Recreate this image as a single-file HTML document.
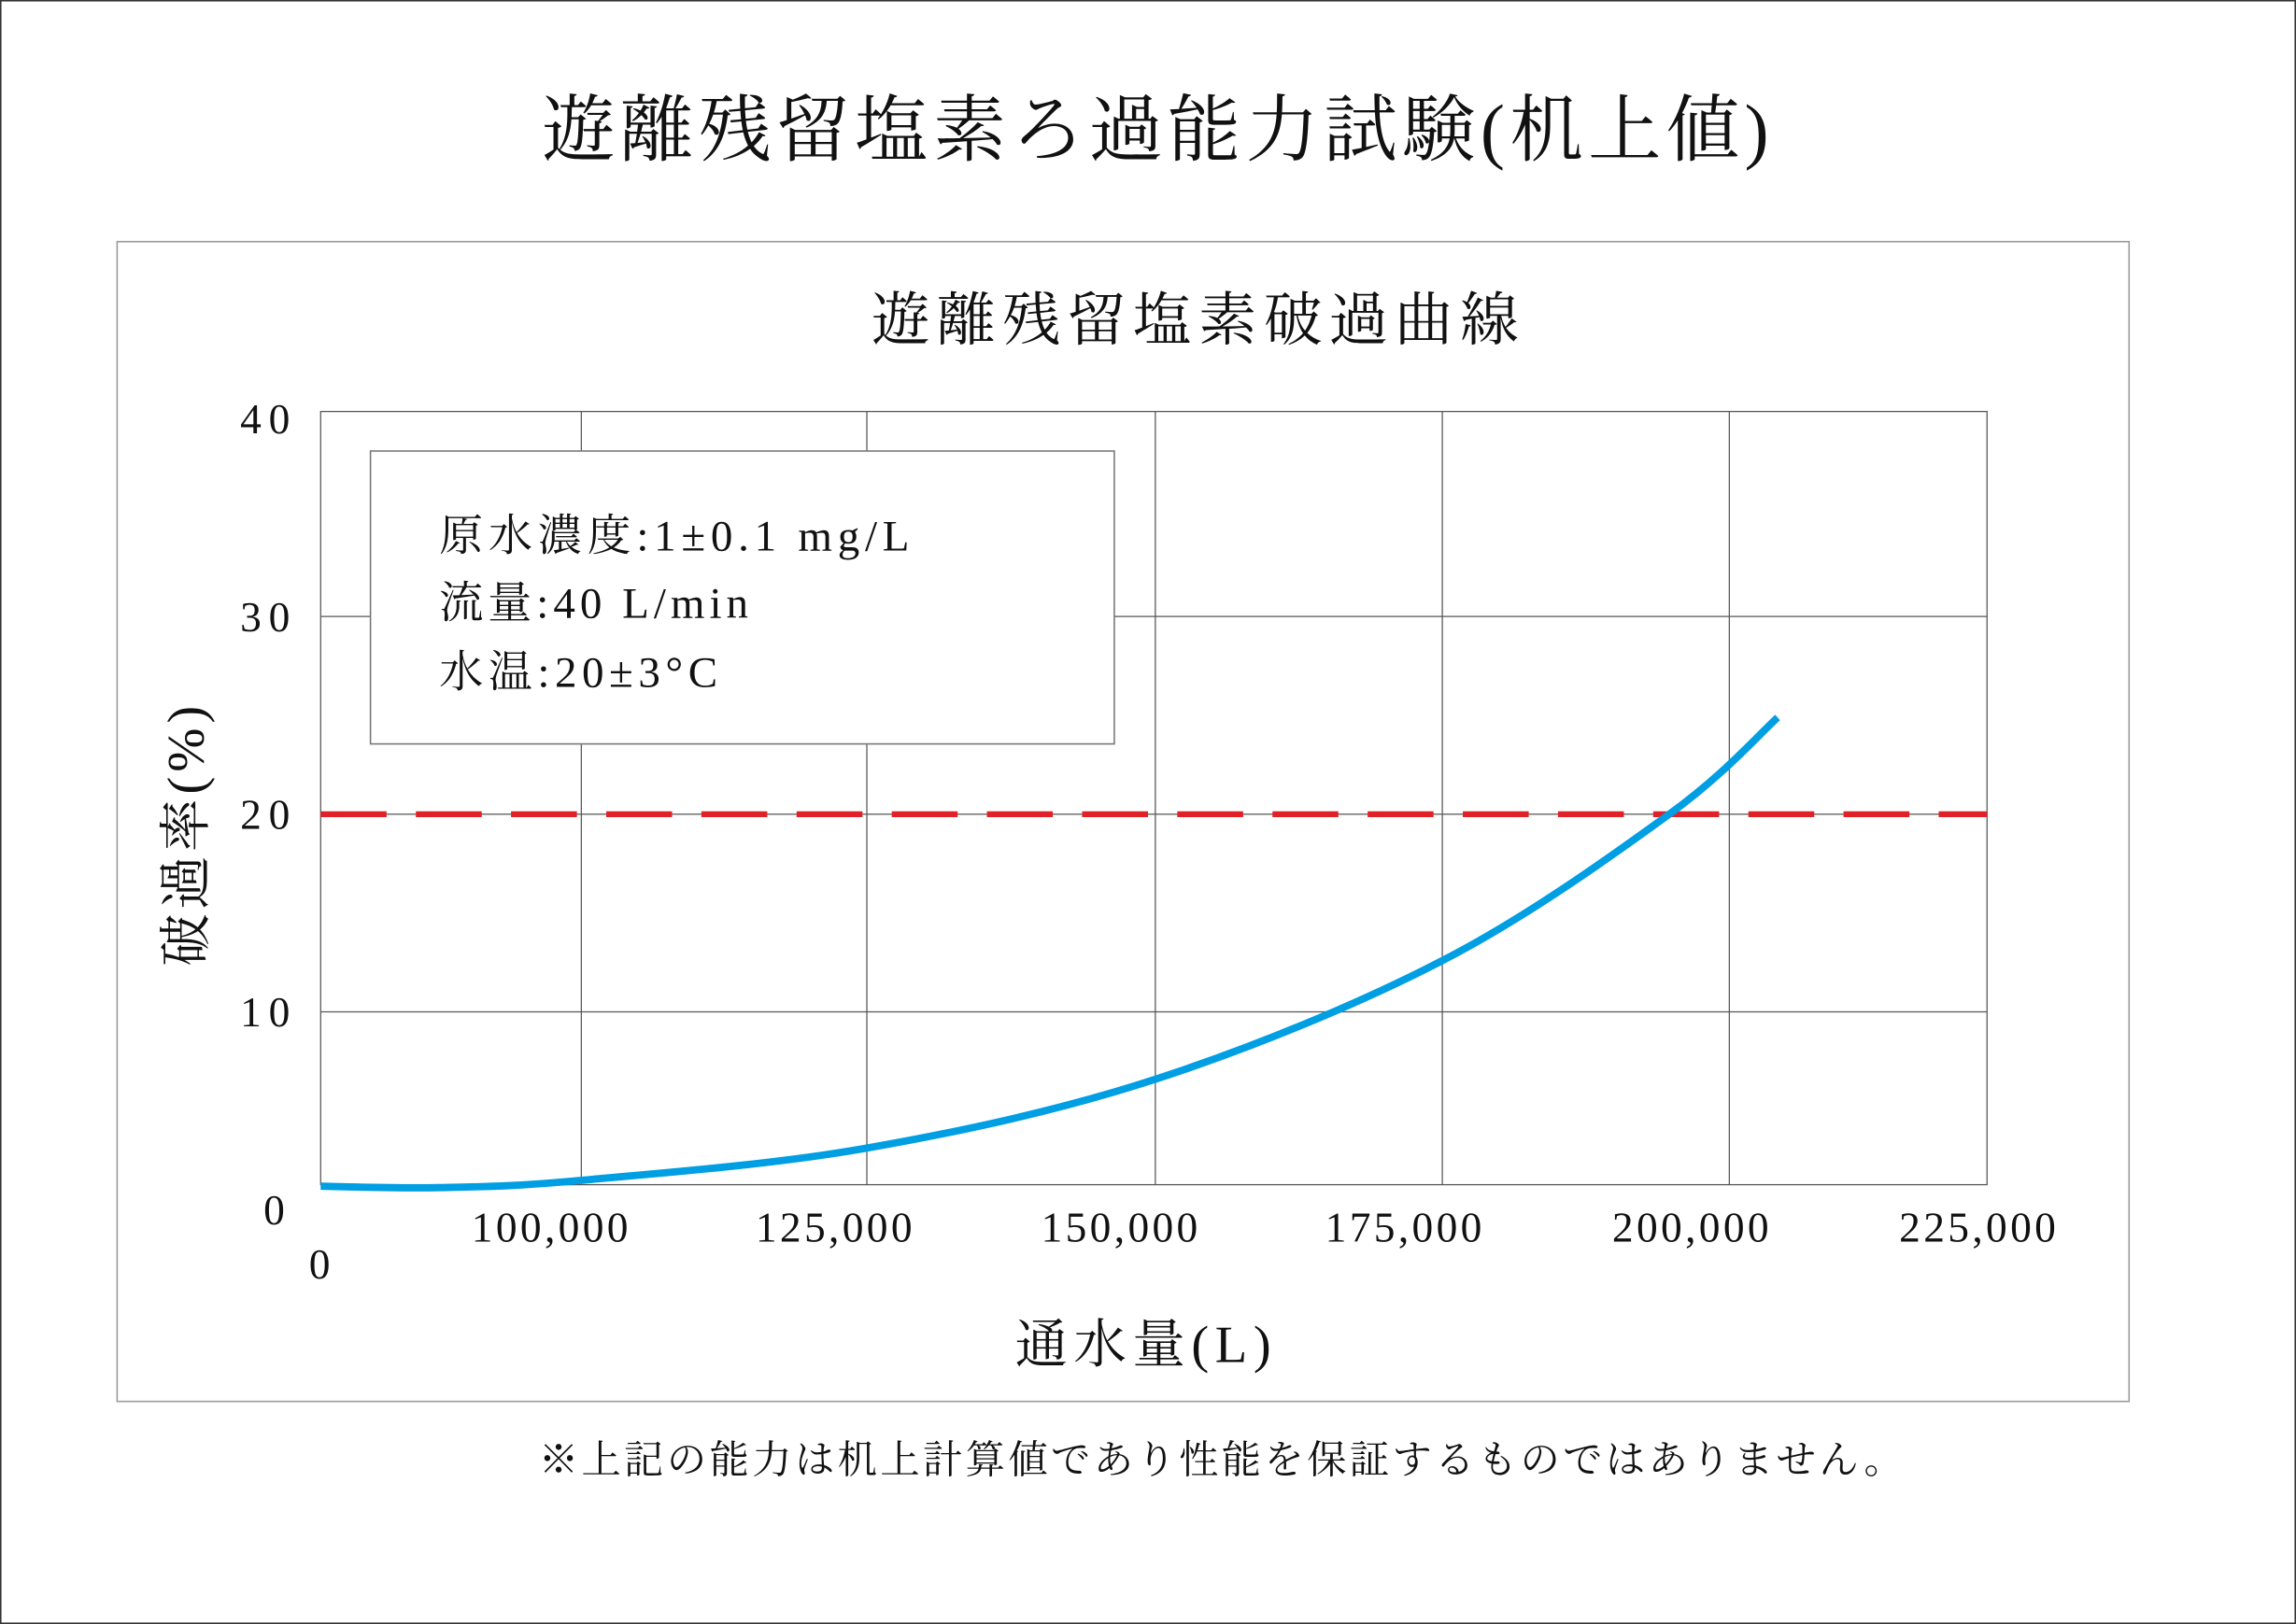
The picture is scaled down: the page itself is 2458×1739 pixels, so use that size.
<!DOCTYPE html>
<html><head><meta charset="utf-8"><style>
html,body{margin:0;padding:0;background:#fff;}
svg{display:block;}
text{font-family:"Liberation Serif","Noto Serif CJK JP","Noto Serif CJK SC",serif;fill:#111;}
</style></head><body>
<svg width="2458" height="1739" viewBox="0 0 1568 1109" preserveAspectRatio="none" xmlns="http://www.w3.org/2000/svg">
<rect x="0.5" y="0.5" width="1567" height="1108" fill="#fff" stroke="#333" stroke-width="1"/>
<text x="370" y="106" font-size="50" textLength="838" lengthAdjust="spacing">遊離残留塩素ろ過能力試験(机上値)</text>
<rect x="80" y="165" width="1374" height="792" fill="#fff" stroke="#999" stroke-width="1"/>
<text x="595" y="232" font-size="40" textLength="442" lengthAdjust="spacing">遊離残留塩素破過曲線</text>
<g stroke="#555" stroke-width="0.8" fill="none">
<rect x="219" y="281" width="1138" height="528"/>
<line x1="397" y1="281" x2="397" y2="809"/>
<line x1="592" y1="281" x2="592" y2="809"/>
<line x1="789" y1="281" x2="789" y2="809"/>
<line x1="985" y1="281" x2="985" y2="809"/>
<line x1="1181" y1="281" x2="1181" y2="809"/>
<line x1="219" y1="421" x2="1357" y2="421"/>
<line x1="219" y1="556" x2="1357" y2="556"/>
<line x1="219" y1="691" x2="1357" y2="691"/>
</g>
<g font-size="29">
<text x="164" y="296" textLength="34" lengthAdjust="spacing">40</text>
<text x="164" y="431" textLength="34" lengthAdjust="spacing">30</text>
<text x="164" y="566" textLength="34" lengthAdjust="spacing">20</text>
<text x="164" y="701" textLength="34" lengthAdjust="spacing">10</text>
<text x="180" y="836">0</text>
</g>
<g font-size="29">
<text x="322" y="848" textLength="107" lengthAdjust="spacing">100,000</text>
<text x="516" y="848" textLength="107" lengthAdjust="spacing">125,000</text>
<text x="711" y="848" textLength="107" lengthAdjust="spacing">150,000</text>
<text x="905" y="848" textLength="107" lengthAdjust="spacing">175,000</text>
<text x="1101" y="848" textLength="107" lengthAdjust="spacing">200,000</text>
<text x="1297" y="848" textLength="107" lengthAdjust="spacing">225,000</text>
<text x="211" y="873">0</text>
</g>
<text x="693" y="930" font-size="36" textLength="175" lengthAdjust="spacing">通水量(L)</text>
<text transform="translate(139,660) rotate(-90)" font-size="36" textLength="178" lengthAdjust="spacing">破過率(%)</text>
<line x1="219" y1="556" x2="1357" y2="556" stroke="#e02228" stroke-width="4" stroke-dasharray="45,20"/>
<path fill="none" stroke="#009fe3" stroke-width="5" d="M219,810 C232.5,810.2 270.3,811.7 300,811 C329.7,810.3 348.3,810.5 397,806 C445.7,801.5 526.7,795.5 592,784 C657.3,772.5 723.5,758.3 789,737 C854.5,715.7 926.5,686.2 985,656 C1043.5,625.8 1101.8,583.7 1140,556 C1178.2,528.3 1201.7,501 1214,490"/>
<rect x="253" y="308" width="508" height="200" fill="#fff" stroke="#777" stroke-width="1"/>
<g font-size="30">
<text x="300" y="376" textLength="321" lengthAdjust="spacing">原水濃度:1±0.1 mg/L</text>
<text x="300" y="422" textLength="211" lengthAdjust="spacing">流量:40 L/min</text>
<text x="300" y="469" textLength="190" lengthAdjust="spacing">水温:20±3°C</text>
</g>
<text x="368" y="1006" font-size="27" textLength="932" lengthAdjust="spacing">※上記の能力は机上計算値であり性能を保証するものではありません。</text>
</svg>
</body></html>
